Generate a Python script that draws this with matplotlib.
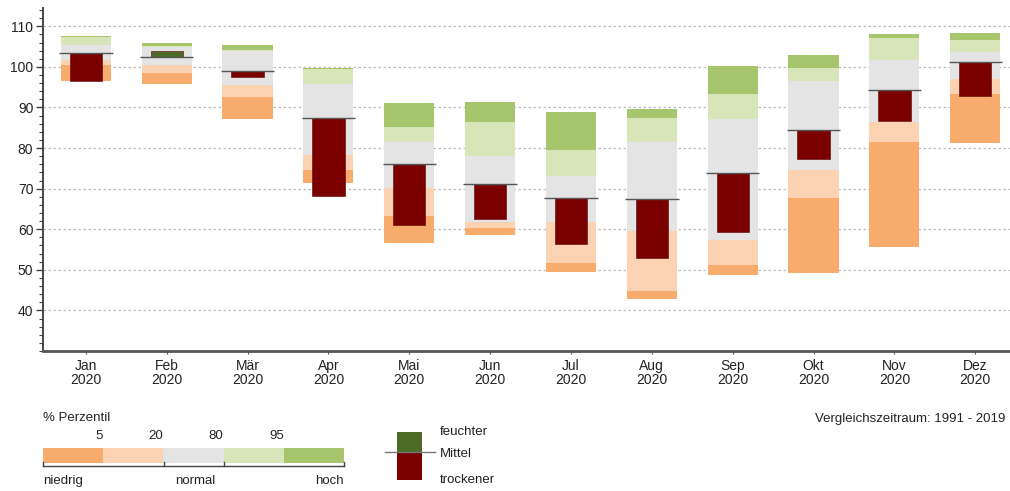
import numpy as np
import matplotlib.pyplot as plt
from matplotlib.patches import Rectangle
from matplotlib.ticker import MultipleLocator

plt.rcParams['font.family'] = ['Liberation Sans', 'DejaVu Sans']

# Monatswerte 2020 und Perzentile der Vergleichsperiode 1991 - 2019
months = ['Jan', 'Feb', 'Mär', 'Apr', 'Mai', 'Jun', 'Jul', 'Aug', 'Sep', 'Okt', 'Nov', 'Dez']
year = '2020'
p_min = [96.6, 95.7, 87.1, 71.5, 56.6, 58.5, 49.5, 42.7, 48.6, 49.2, 55.5, 81.3]
p5 = [100.4, 98.4, 92.5, 74.6, 63.3, 60.3, 51.7, 44.9, 51.3, 67.8, 81.6, 93.3]
p20 = [101.6, 100.4, 95.5, 78.3, 70.1, 61.9, 61.9, 59.5, 57.4, 74.6, 86.5, 97.1]
p80 = [105.3, 105.0, 103.8, 95.7, 81.6, 78.1, 73.0, 81.4, 87.1, 96.5, 101.8, 103.7]
p95 = [107.3, 105.1, 104.1, 99.5, 85.3, 86.5, 79.5, 87.3, 93.3, 99.6, 107.0, 106.6]
p_max = [107.6, 105.9, 105.3, 99.8, 91.0, 91.4, 88.9, 89.6, 100.2, 102.9, 108.0, 108.4]
mittel = [103.4, 102.5, 98.9, 87.3, 76.0, 71.1, 67.8, 67.5, 73.8, 84.4, 94.3, 101.1]
wert = [96.6, 103.9, 97.4, 68.3, 61.1, 62.6, 56.4, 52.9, 59.2, 77.2, 86.7, 92.8]

perz_labels = ['5', '20', '80', '95']
band_colors = ['#F7AC6E', '#FCD3B2', '#E4E4E4', '#D7E5B8', '#A6C56C']
c_dry = '#7A0000'
c_wet = '#4B6B27'

fig = plt.figure(figsize=(10.10, 4.91), dpi=100)
ax = fig.add_axes([43 / 1010, 1 - 351 / 491, 1 - 43 / 1010, 343 / 491])

x = np.arange(len(months))
bounds = [p_min, p5, p20, p80, p95, p_max]
for i in range(5):
    lo = np.array(bounds[i])
    hi = np.array(bounds[i + 1])
    ax.bar(x, hi - lo, bottom=lo, width=0.62, color=band_colors[i], zorder=2)

m = np.array(mittel)
v = np.array(wert)
cols = [c_wet if vv > mm else c_dry for vv, mm in zip(v, m)]
ax.bar(x, v - m, bottom=m, width=0.40, color=cols, edgecolor='#5a0000', linewidth=0.4, zorder=3)
ax.hlines(m, x - 0.33, x + 0.33, color='#555555', linewidth=1.0, zorder=4)

ax.set_xlim(-0.53, 11.43)
ax.set_ylim(30, 114.5)
ax.set_yticks(np.arange(40, 111, 10))
ax.yaxis.set_minor_locator(MultipleLocator(2))
ax.grid(axis='y', which='major', linestyle=(0, (2, 2)), color='#bdbdbd', linewidth=0.9, zorder=0)
ax.set_axisbelow(True)

ax.set_xticks(x)
ax.set_xticklabels([mo + '\n' + year for mo in months], fontsize=10, color='#222222', linespacing=0.95)
ax.tick_params(axis='x', length=2, pad=4, color='#555555')
ax.tick_params(axis='y', which='major', length=5, width=1, labelsize=10, labelcolor='#222222', color='#444444', pad=2)
ax.tick_params(axis='y', which='minor', length=3, width=0.8, color='#444444')

for s in ['top', 'right']:
    ax.spines[s].set_visible(False)
ax.spines['left'].set_color('#444444')
ax.spines['left'].set_linewidth(1.4)
ax.spines['bottom'].set_color('#555555')
ax.spines['bottom'].set_linewidth(2)

# Legende in Pixelkoordinaten
lg = fig.add_axes([0, 0, 1, 1], zorder=-1)
lg.set_xlim(0, 1010)
lg.set_ylim(491, 0)
lg.axis('off')

lg.text(43, 418, '% Perzentil', fontsize=9.5, color='#222222', va='center', ha='left')
seg_w = 60.2
for i, c in enumerate(band_colors):
    lg.add_patch(Rectangle((43 + i * seg_w, 448), seg_w, 15, color=c, lw=0))
for i, lab in enumerate(perz_labels):
    lg.text(43 + (i + 1) * seg_w, 442, lab, fontsize=9.5, color='#222222', ha='right', va='bottom')
lg.plot([43, 344], [466, 466], color='#444444', lw=1)
for xx in [43, 163.5, 223.5, 344]:
    lg.plot([xx, xx], [462, 466], color='#444444', lw=1)
lg.text(43, 481, 'niedrig', fontsize=9.5, color='#222222', ha='left', va='center')
lg.text(195, 481, 'normal', fontsize=9.5, color='#222222', ha='center', va='center')
lg.text(344, 481, 'hoch', fontsize=9.5, color='#222222', ha='right', va='center')

lg.add_patch(Rectangle((397, 432), 25, 20, color=c_wet, lw=0))
lg.add_patch(Rectangle((397, 452), 25, 28, color=c_dry, lw=0))
lg.plot([385, 435], [452, 452], color='#777777', lw=1)
lg.text(440, 432, 'feuchter', fontsize=9.5, color='#222222', ha='left', va='center')
lg.text(440, 454, 'Mittel', fontsize=9.5, color='#222222', ha='left', va='center')
lg.text(440, 480, 'trockener', fontsize=9.5, color='#222222', ha='left', va='center')

lg.text(1005, 419, 'Vergleichszeitraum: 1991 - 2019', fontsize=9.5, color='#222222', ha='right', va='center')

fig.savefig('out.png', dpi=100)
